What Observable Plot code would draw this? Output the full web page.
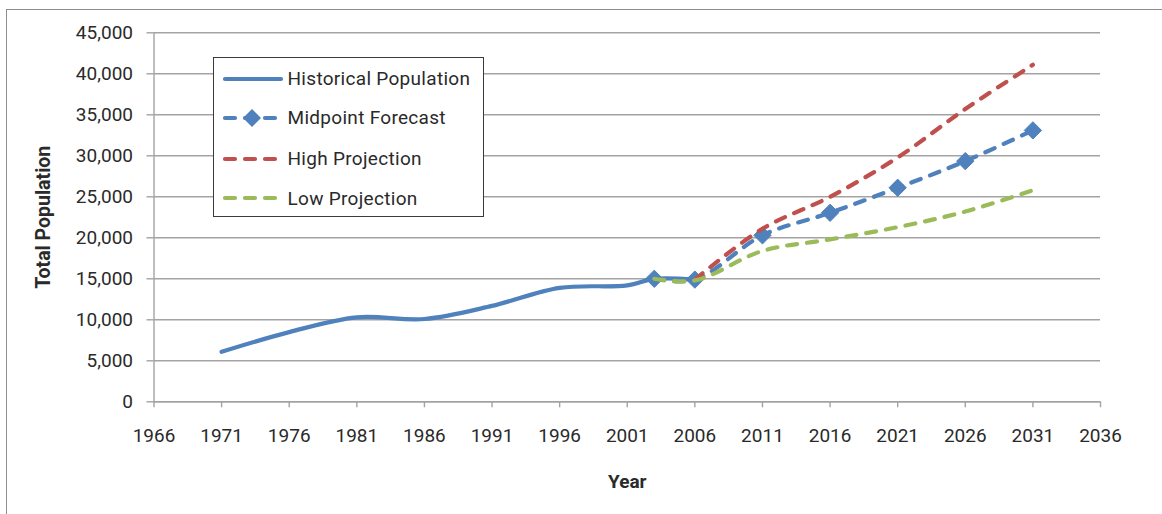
<!DOCTYPE html>
<html>
<head>
<meta charset="utf-8">
<script src="https://cdn.jsdelivr.net/npm/d3@7"></script>
<script src="https://cdn.jsdelivr.net/npm/@observablehq/plot@0.6"></script>
<style>
  html, body { margin: 0; padding: 0; background: #fff; }
  #wrap { position: relative; width: 1162px; height: 514px; overflow: hidden; font-family: Roboto, "Open Sans", sans-serif; }
  #frame { position: absolute; left: 6px; top: 9px; width: 1200px; height: 600px; border-top: 1px solid #8e8e8e; border-left: 1px solid #8e8e8e; }
  #chart { position: absolute; left: 0; top: 0; }
  #legend { position: absolute; left: 213px; top: 57px; width: 269px; height: 158px; border: 1.5px solid #3a3a3a; background: #fff; }
  .item { position: absolute; left: 0; height: 24px; display: flex; align-items: center; white-space: nowrap; }
  .item svg { margin-left: 6.5px; }
  .item span { margin-left: 3px; font-size: 19px; color: #2a2a2a; letter-spacing: 0.3px; }
</style>
</head>
<body>
<div id="wrap">
  <div id="frame"></div>
  <div id="chart"></div>
  <div id="legend"></div>
</div>
<script>
// Population series (persons)
const histYears  = [1971, 1976, 1981, 1986, 1991, 1996, 2001, 2003, 2006];
const histValues = [6100, 8500, 10300, 10100, 11700, 13900, 14200, 15000, 14900];

const midYears  = [2003, 2006, 2011, 2016, 2021, 2026, 2031];
const midValues = [15000, 14900, 20300, 23050, 26100, 29350, 33100];

const highYears  = [2006, 2011, 2016, 2021, 2026, 2031];
const highValues = [14900, 21100, 25000, 29800, 35700, 41100];

const lowYears  = [2003, 2006, 2011, 2016, 2021, 2026, 2031];
const lowValues = [15000, 14800, 18400, 19800, 21300, 23200, 25800];

const xTicks = [1966, 1971, 1976, 1981, 1986, 1991, 1996, 2001, 2006, 2011, 2016, 2021, 2026, 2031, 2036];
const yTicks = [0, 5000, 10000, 15000, 20000, 25000, 30000, 35000, 40000, 45000];

const seriesNames  = ["Historical Population", "Midpoint Forecast", "High Projection", "Low Projection"];
const seriesColors = ["#4f81bd", "#4f81bd", "#c0504d", "#9bbb59"];

const toRows = (years, values) => years.map((year, i) => ({year, value: values[i]}));
const hist = toRows(histYears, histValues);
const mid  = toRows(midYears, midValues);
const high = toRows(highYears, highValues);
const low  = toRows(lowYears, lowValues);

const grid = "#a3a3a3";
const dash = "10,10";
const ink = "#2a2a2a";

const chart = Plot.plot({
  width: 1162,
  height: 514,
  marginLeft: 153.5,
  marginRight: 62,
  marginTop: 32.3,
  marginBottom: 112.7,
  style: {fontFamily: "Roboto, 'Open Sans', sans-serif", fontSize: "19px", color: ink, background: "transparent", overflow: "visible"},
  x: {domain: [1966, 2036]},
  y: {domain: [0, 45000]},
  marks: [
    Plot.gridY(yTicks, {stroke: grid, strokeOpacity: 1, strokeWidth: 1.4}),
    Plot.ruleX([1966], {stroke: grid, strokeWidth: 1.4}),
    Plot.ruleY([0], {stroke: grid, strokeWidth: 1.4}),
    Plot.axisY({ticks: yTicks, tickFormat: d3.format(","), tickSize: 7, tickPadding: 14, stroke: grid, strokeWidth: 1.4, fill: ink, label: null, fontSize: 19, letterSpacing: "0.8px"}),
    Plot.axisX({ticks: xTicks, tickFormat: d => String(d), tickSize: 6, tickPadding: 21, stroke: grid, strokeWidth: 1.4, fill: ink, label: null, fontSize: 19, letterSpacing: "0.6px"}),
    Plot.text(["Total Population"], {frameAnchor: "left", textAnchor: "middle", dx: -110, rotate: -90, fontWeight: "bold", fontSize: 19.5, letterSpacing: "0.4px", fill: ink}),
    Plot.text(["Year"], {frameAnchor: "bottom", dy: 86, fontWeight: "bold", fontSize: 19, fill: ink}),
    Plot.line(hist, {x: "year", y: "value", stroke: seriesColors[0], strokeWidth: 4.2, curve: "catmull-rom", strokeLinecap: "round"}),
    Plot.line(mid, {x: "year", y: "value", stroke: seriesColors[1], strokeWidth: 4.2, curve: "catmull-rom", strokeDasharray: dash, strokeLinecap: "round"}),
    Plot.dot(mid, {x: "year", y: "value", symbol: "diamond2", r: 7.8, fill: seriesColors[1], stroke: seriesColors[1], strokeWidth: 1}),
    Plot.line(high, {x: "year", y: "value", stroke: seriesColors[2], strokeWidth: 4.2, curve: "catmull-rom", strokeDasharray: dash, strokeLinecap: "round"}),
    Plot.line(low, {x: "year", y: "value", stroke: seriesColors[3], strokeWidth: 4.2, curve: "catmull-rom", strokeDasharray: dash, strokeLinecap: "round"})
  ]
});
document.getElementById("chart").append(chart);

// Legend box with one swatch per series
const legend = d3.select("#legend");
const rowTops = [8.7, 47.7, 88.7, 128.3];
seriesNames.forEach((name, i) => {
  const row = legend.append("div").attr("class", "item").style("top", rowTops[i] + "px");
  const svg = row.append("svg").attr("width", 64).attr("height", 24);
  const line = svg.append("line").attr("x1", 4).attr("x2", 60).attr("y1", 12).attr("y2", 12)
    .attr("stroke", seriesColors[i]).attr("stroke-width", 4.2).attr("stroke-linecap", "round");
  if (i > 0) line.attr("stroke-dasharray", dash);
  if (i === 1) svg.append("path").attr("d", "M31,3L40,12L31,21L22,12Z").attr("fill", seriesColors[i]);
  row.append("span").text(name);
});
</script>
</body>
</html>
